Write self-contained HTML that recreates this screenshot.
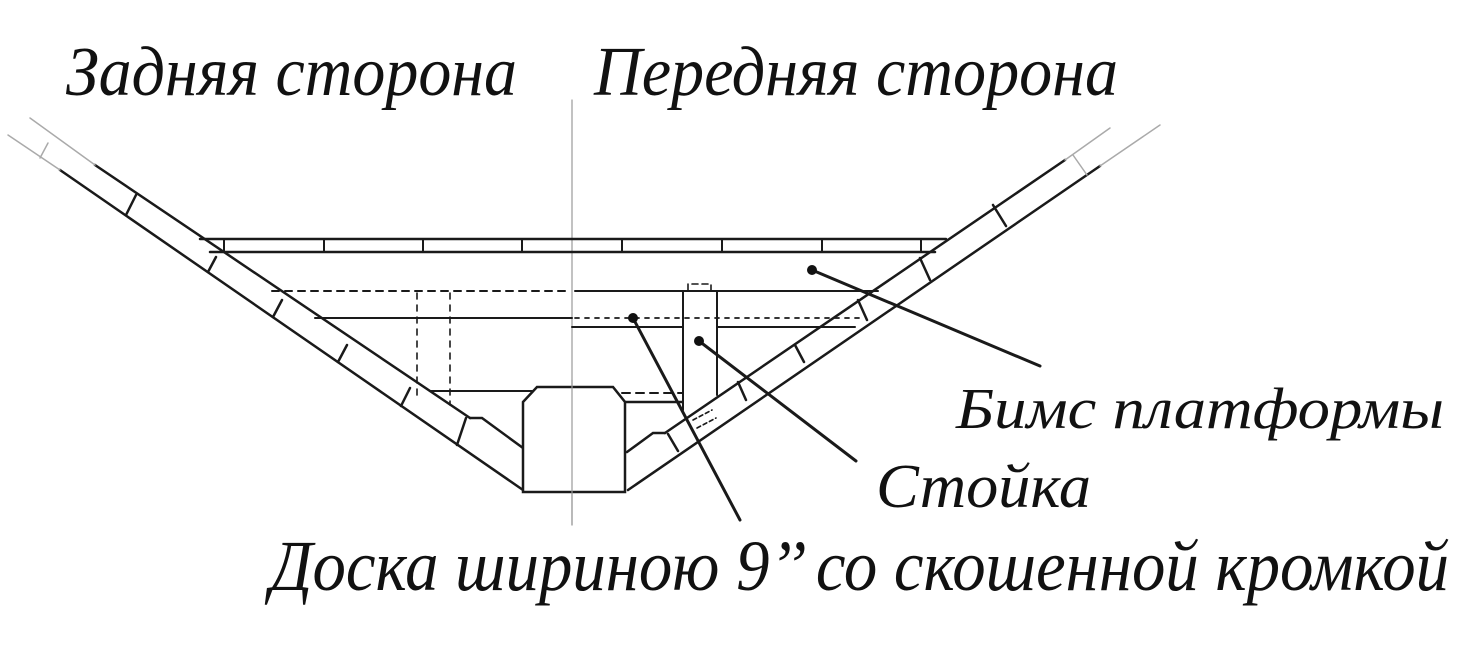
<!DOCTYPE html>
<html><head><meta charset="utf-8"><style>
html,body{margin:0;padding:0;background:#fff;}
svg{display:block;}
text{font-family:"Liberation Serif","DejaVu Serif",serif;font-style:italic;fill:#111;}
</style></head><body>
<svg width="1479" height="659" viewBox="0 0 1479 659" xmlns="http://www.w3.org/2000/svg">
<g fill="none" stroke="#1a1a1a" stroke-width="2.5" stroke-linecap="round">
  <line x1="572" y1="100" x2="572" y2="525" stroke="#999" stroke-width="1.2"/>
  <!-- left hull band -->
  <line x1="60" y1="170" x2="523" y2="490"/>
  <line x1="95" y1="165" x2="470" y2="418"/>
  <polyline points="470,418 482,418 523,448"/>
  <line x1="8" y1="135" x2="60" y2="170" stroke="#aaa" stroke-width="1.5"/>
  <line x1="30" y1="118" x2="95" y2="165" stroke="#aaa" stroke-width="1.5"/>
  <line x1="40" y1="158" x2="48" y2="143" stroke="#aaa" stroke-width="1.5"/>
  <line x1="126" y1="215" x2="136" y2="195"/>
  <line x1="208" y1="272" x2="216" y2="257"/>
  <line x1="273" y1="317" x2="282" y2="300"/>
  <line x1="338" y1="362" x2="347" y2="345"/>
  <line x1="401" y1="406" x2="410" y2="388"/>
  <line x1="457" y1="445" x2="466" y2="418"/>
  <!-- right hull band -->
  <line x1="628" y1="490" x2="1100" y2="166"/>
  <line x1="665" y1="433" x2="1065" y2="160"/>
  <polyline points="627,452 653,433 665,433"/>
  <line x1="1100" y1="166" x2="1160" y2="125" stroke="#aaa" stroke-width="1.5"/>
  <line x1="1065" y1="160" x2="1110" y2="128" stroke="#aaa" stroke-width="1.5"/>
  <line x1="1073" y1="155" x2="1087" y2="175" stroke="#aaa" stroke-width="1.5"/>
  <line x1="993" y1="205" x2="1006" y2="226"/>
  <line x1="920" y1="258" x2="930" y2="280"/>
  <line x1="858" y1="300" x2="867" y2="320"/>
  <line x1="795" y1="345" x2="804" y2="362"/>
  <line x1="738" y1="382" x2="746" y2="400"/>
  <line x1="668" y1="434" x2="678" y2="451"/>
  <!-- deck -->
  <line x1="200" y1="239" x2="946" y2="239"/>
  <line x1="210" y1="252" x2="935" y2="252"/>
  <g stroke-width="2">
  <line x1="224" y1="239" x2="224" y2="252"/>
  <line x1="324" y1="239" x2="324" y2="252"/>
  <line x1="423" y1="239" x2="423" y2="252"/>
  <line x1="522" y1="239" x2="522" y2="252"/>
  <line x1="622" y1="239" x2="622" y2="252"/>
  <line x1="722" y1="239" x2="722" y2="252"/>
  <line x1="822" y1="239" x2="822" y2="252"/>
  <line x1="921" y1="239" x2="921" y2="252"/>
  </g>
  <!-- beam -->
  <line x1="272" y1="291" x2="570" y2="291" stroke-dasharray="7,6" stroke-width="2"/>
  <line x1="575" y1="291" x2="878" y2="291" stroke-width="2"/>
  <line x1="315" y1="318" x2="572" y2="318" stroke-width="2"/>
  <line x1="575" y1="318" x2="860" y2="318" stroke-dasharray="4,6" stroke-width="1.8"/>
  <line x1="572" y1="327" x2="682" y2="327" stroke-width="2"/>
  <line x1="718" y1="327" x2="855" y2="327" stroke-width="2"/>
  <line x1="417" y1="293" x2="417" y2="400" stroke-dasharray="6,6" stroke-width="1.6"/>
  <line x1="450" y1="293" x2="450" y2="405" stroke-dasharray="6,6" stroke-width="1.6"/>
  <!-- stanchion -->
  <polyline points="683,410 683,291 717,291 717,395" stroke-width="2"/>
  <polyline points="688,290 688,284 711,284 711,290" stroke-dasharray="6,4" stroke-width="1.6"/>
  <!-- floors -->
  <line x1="430" y1="391" x2="532" y2="391" stroke-width="2"/>
  <line x1="622" y1="393" x2="682" y2="393" stroke-dasharray="8,6" stroke-width="2"/>
  <line x1="625" y1="402" x2="682" y2="402" stroke-width="2.4"/>
  <line x1="693" y1="420" x2="712" y2="410" stroke-dasharray="4,3" stroke-width="1.6"/>
  <line x1="697" y1="428" x2="716" y2="418" stroke-dasharray="4,3" stroke-width="1.6"/>
  <!-- keel -->
  <polygon points="523,402 537,387 613,387 625,402 625,492 523,492" fill="#fff"/>
  <line x1="572" y1="380" x2="572" y2="525" stroke="#999" stroke-width="1.2"/>
  <!-- leaders -->
  <line x1="633" y1="318" x2="740" y2="520" stroke-width="3"/>
  <line x1="699" y1="341" x2="856" y2="461" stroke-width="3"/>
  <line x1="812" y1="270" x2="1040" y2="366" stroke-width="3"/>
</g>
<g fill="#111">
  <circle cx="633" cy="318" r="5"/>
  <circle cx="699" cy="341" r="5"/>
  <circle cx="812" cy="270" r="5"/>
</g>
<text x="66" y="95" font-size="70" textLength="451" lengthAdjust="spacingAndGlyphs">Задняя сторона</text>
<text x="594" y="95" font-size="70" textLength="524" lengthAdjust="spacingAndGlyphs">Передняя сторона</text>
<text x="956" y="428" font-size="58" textLength="488" lengthAdjust="spacingAndGlyphs">Бимс платформы</text>
<text x="876" y="507" font-size="62" textLength="215" lengthAdjust="spacingAndGlyphs">Стойка</text>
<text x="270" y="590" font-size="72" textLength="1179" lengthAdjust="spacingAndGlyphs">Доска шириною 9’’ со скошенной кромкой</text>
</svg>
</body></html>
